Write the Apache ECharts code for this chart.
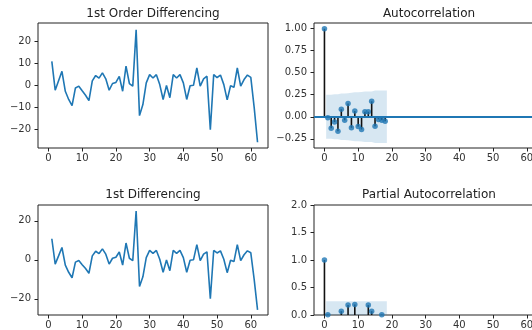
<!DOCTYPE html>
<html>
<head>
<meta charset="utf-8">
<script src="https://cdn.jsdelivr.net/npm/echarts@6/dist/echarts.min.js"></script>
<style>
html, body { margin: 0; padding: 0; background: #fff; }
#chart { width: 532px; height: 330px; }
</style>
</head>
<body>
<div id="chart"></div>
<script>
// 1st differenced series, t = 1..62
var diffValues = [10.8, -2.2, 2, 6.3, -2.7, -6.4, -9.2, -1.2, -0.4, -2.5,
    -4.5, -6.9, 2, 4.4, 3.2, 5.6, 2.9, -2.2, 0.8, 1.3,
    4, -2.7, 8.6, 0.8, -0.4, 25, -13.7, -8.7, 1.1, 4.8,
    3.3, 4.8, 0.3, -6.4, -0.1, -5.6, 4.8, 3.3, 4.8, 1.1,
    -6.4, -0.2, 0, 7.8, -0.4, 2.9, 4.1, -20, 4.8, 3.5,
    4.6, 0.3, -6.6, -0.2, -0.9, 7.8, -0.4, 2.6, 4.6, 3.6,
    -10, -25.7];

// acf / pacf
var lags = [0, 1, 2, 3, 4, 5, 6, 7, 8, 9, 10, 11, 12, 13, 14, 15, 16, 17, 18];
var acfValues = [1.0, -0.01, -0.13, -0.06, -0.165, 0.085, -0.04, 0.15, -0.125, 0.065,
    -0.11, -0.145, 0.057, 0.057, 0.176, -0.107, -0.03, -0.04, -0.05];
// negative pacf values are cut off by the 0..2 y range in the picture (null = not visible)
var pacfValues = [1.0, 0.005, null, null, null, 0.07, null, 0.18, null, 0.19,
    null, null, null, 0.18, 0.07, null, null, 0.005, null];

// confidence band (half width), drawn from lag 0.5 to 18.5
var bandLags = [0.5, 2, 3, 4, 5, 6, 7, 8, 9, 10, 11, 12, 13, 14, 15, 16, 17, 18.5];
var acfBand = [0.249, 0.249, 0.255, 0.256, 0.264, 0.265, 0.266, 0.274, 0.278, 0.279,
    0.282, 0.287, 0.287, 0.288, 0.297, 0.298, 0.298, 0.299];
var pacfBand = [0.249, 0.249, 0.249, 0.249, 0.249, 0.249, 0.249, 0.249, 0.249, 0.249,
    0.249, 0.249, 0.249, 0.249, 0.249, 0.249, 0.249, 0.249];

var xTicks = [0, 10, 20, 30, 40, 50, 60];
var diffTicksTop = [-20, -10, 0, 10, 20];
var diffTicksBottom = [-20, 0, 20];
var acfTicks = [-0.25, 0, 0.25, 0.5, 0.75, 1];
var pacfTicks = [0, 0.5, 1, 1.5, 2];

var titles = ['1st Order Differencing', 'Autocorrelation', '1st Differencing', 'Partial Autocorrelation'];

var BLUE = '#1f77b4';
var FONT = 'DejaVu Sans';

function minus(s) { return String(s).replace('-', '\u2212'); }

var grids = [
    {left: 38, top: 23, width: 230, height: 125},
    {left: 314, top: 23, width: 230, height: 125},
    {left: 38, top: 205, width: 230, height: 110},
    {left: 314, top: 205, width: 230, height: 110}
];
grids.forEach(function (g) {
    g.show = true;
    g.borderColor = '#222';
    g.borderWidth = 1;
    g.backgroundColor = 'transparent';
    g.containLabel = false;
    g.outerBoundsMode = 'none';
});

function xAxisFor(i) {
    return {
        type: 'value', gridIndex: i, min: -3.1, max: 65.1,
        splitLine: {show: false},
        axisLine: {show: false, onZero: false},
        axisTick: {show: true, length: 3.5, lineStyle: {color: '#222'}, customValues: xTicks},
        axisLabel: {customValues: xTicks, margin: 5, color: '#333', fontFamily: FONT, fontSize: 10}
    };
}
function yAxisFor(i, min, max, ticks, fmt) {
    return {
        type: 'value', gridIndex: i, min: min, max: max,
        splitLine: {show: false},
        axisLine: {show: false, onZero: false},
        axisTick: {show: true, length: 3.5, lineStyle: {color: '#222'}, customValues: ticks},
        axisLabel: {customValues: ticks, margin: 7, color: '#333', fontFamily: FONT, fontSize: 10,
            formatter: fmt}
    };
}

var diffData = diffValues.map(function (v, i) { return [i + 1, v]; });
function pairs(xs, ys, sign) {
    var out = [];
    for (var i = 0; i < xs.length; i++) {
        if (ys[i] !== null) out.push([xs[i], sign * ys[i]]);
    }
    return out;
}

function stemSeries(axis, data) {
    return {
        type: 'custom', xAxisIndex: axis, yAxisIndex: axis, clip: true, z: 3, silent: true,
        data: data,
        renderItem: function (params, api) {
            var p0 = api.coord([api.value(0), 0]);
            var p1 = api.coord([api.value(0), api.value(1)]);
            return {type: 'line', shape: {x1: p0[0], y1: p0[1], x2: p1[0], y2: p1[1]},
                style: {stroke: '#111', lineWidth: 1.6}};
        }
    };
}
function bandSeries(axis, xs, ys, sign) {
    return {
        type: 'line', xAxisIndex: axis, yAxisIndex: axis, symbol: 'none', silent: true, z: 1,
        data: pairs(xs, ys, sign),
        lineStyle: {width: 0, opacity: 0},
        areaStyle: {color: 'rgba(31,119,180,0.25)', origin: 'auto'}
    };
}

var graphics = titles.map(function (t, i) {
    var g = grids[i];
    return {
        type: 'text', x: g.left + 115, y: i < 2 ? 8 : 189,
        style: {text: t, font: '12px "' + FONT + '"', fill: '#222',
            textAlign: 'center', align: 'center', textVerticalAlign: 'top', verticalAlign: 'top'}
    };
});

var option = {
    animation: false,
    grid: grids,
    graphic: graphics,
    xAxis: [xAxisFor(0), xAxisFor(1), xAxisFor(2), xAxisFor(3)],
    yAxis: [
        yAxisFor(0, -28.3, 28.1, diffTicksTop, function (v) { return minus(v); }),
        yAxisFor(1, -0.355, 1.065, acfTicks, function (v) { return minus(v.toFixed(2)); }),
        yAxisFor(2, -28.3, 28.1, diffTicksBottom, function (v) { return minus(v); }),
        yAxisFor(3, 0, 2, pacfTicks, function (v) { return v.toFixed(1); })
    ],
    series: [
        {type: 'line', xAxisIndex: 0, yAxisIndex: 0, data: diffData, symbol: 'none',
            lineStyle: {color: BLUE, width: 1.6}},
        {type: 'line', xAxisIndex: 2, yAxisIndex: 2, data: diffData, symbol: 'none',
            lineStyle: {color: BLUE, width: 1.6}},

        bandSeries(1, bandLags, acfBand, 1),
        bandSeries(1, bandLags, acfBand, -1),
        stemSeries(1, pairs(lags, acfValues, 1)),
        {type: 'scatter', xAxisIndex: 1, yAxisIndex: 1, data: pairs(lags, acfValues, 1),
            symbolSize: 5.5, itemStyle: {color: BLUE}, z: 4,
            markLine: {silent: true, symbol: ['none', 'none'], label: {show: false},
                lineStyle: {color: BLUE, width: 1.8, type: 'solid'}, data: [{yAxis: 0}]}},

        bandSeries(3, bandLags, pacfBand, 1),
        stemSeries(3, pairs(lags, pacfValues, 1)),
        {type: 'scatter', xAxisIndex: 3, yAxisIndex: 3, data: pairs(lags, pacfValues, 1),
            symbolSize: 5.5, itemStyle: {color: BLUE}, z: 4}
    ]
};

var myChart = echarts.init(document.getElementById('chart'));
myChart.setOption(option);
</script>
</body>
</html>
